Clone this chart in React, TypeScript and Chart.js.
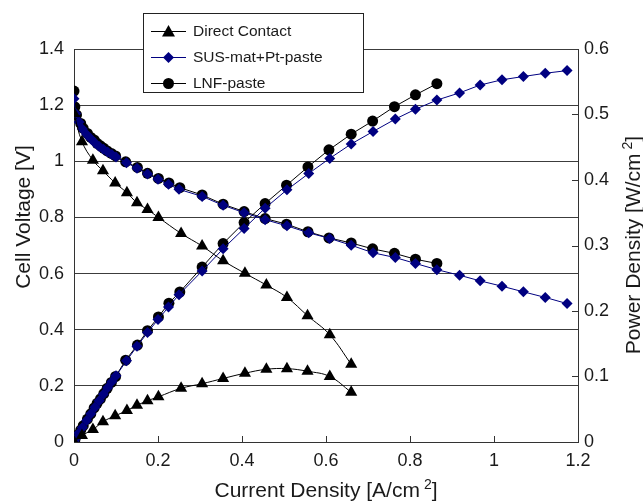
import { useEffect, useRef } from 'react';
import { Chart, registerables } from 'chart.js';
Chart.register(...registerables);

const FONT = '"Liberation Sans", Arial, Helvetica, sans-serif';
const AXIS_COLOR = '#333333';
const GRID_COLOR = '#3c3c3c';
const NAVY = '#000080';

// Direct Contact
const dcCurrent = [0, 0.019, 0.045, 0.069, 0.098, 0.126, 0.150, 0.175, 0.201, 0.255, 0.305, 0.355, 0.407, 0.458, 0.507, 0.556, 0.609, 0.660];
const dcVoltage = [1.17, 1.070, 1.004, 0.966, 0.923, 0.888, 0.852, 0.828, 0.800, 0.743, 0.698, 0.646, 0.601, 0.559, 0.515, 0.450, 0.382, 0.277];
const dcPower = [0, 0.010, 0.019, 0.031, 0.040, 0.048, 0.056, 0.063, 0.069, 0.082, 0.089, 0.097, 0.105, 0.111, 0.112, 0.108, 0.100, 0.076];

// SUS-mat+Pt-paste
const susCurrent = [0, 0.004, 0.012, 0.020, 0.030, 0.040, 0.050, 0.060, 0.070, 0.080, 0.090, 0.100, 0.125, 0.150, 0.175, 0.200, 0.225, 0.250, 0.305, 0.355, 0.405, 0.455, 0.507, 0.559, 0.609, 0.660, 0.712, 0.765, 0.813, 0.864, 0.918, 0.967, 1.019, 1.070, 1.122, 1.174];
const susVoltage = [1.223, 1.170, 1.140, 1.115, 1.095, 1.080, 1.065, 1.053, 1.043, 1.033, 1.024, 1.015, 0.995, 0.975, 0.955, 0.936, 0.918, 0.900, 0.875, 0.843, 0.817, 0.792, 0.770, 0.745, 0.725, 0.701, 0.674, 0.657, 0.636, 0.614, 0.594, 0.574, 0.555, 0.535, 0.515, 0.493];
const susPower = [0, 0.005, 0.014, 0.022, 0.033, 0.043, 0.053, 0.063, 0.073, 0.083, 0.092, 0.101, 0.124, 0.146, 0.167, 0.187, 0.206, 0.225, 0.261, 0.295, 0.326, 0.357, 0.385, 0.410, 0.433, 0.455, 0.474, 0.493, 0.508, 0.522, 0.533, 0.545, 0.553, 0.558, 0.563, 0.567];

// LNF-paste
const lnfCurrent = [0, 0.002, 0.006, 0.016, 0.022, 0.032, 0.040, 0.048, 0.055, 0.063, 0.071, 0.079, 0.089, 0.099, 0.123, 0.151, 0.175, 0.201, 0.226, 0.252, 0.305, 0.355, 0.405, 0.455, 0.506, 0.557, 0.607, 0.660, 0.711, 0.763, 0.813, 0.864];
const lnfVoltage = [1.250, 1.194, 1.165, 1.135, 1.117, 1.099, 1.085, 1.076, 1.064, 1.055, 1.046, 1.037, 1.028, 1.019, 0.998, 0.978, 0.957, 0.939, 0.923, 0.906, 0.880, 0.847, 0.821, 0.796, 0.776, 0.749, 0.727, 0.709, 0.688, 0.672, 0.651, 0.636];
const lnfPower = [0, 0.003, 0.010, 0.018, 0.025, 0.035, 0.043, 0.052, 0.059, 0.066, 0.074, 0.082, 0.091, 0.100, 0.125, 0.148, 0.170, 0.191, 0.212, 0.229, 0.267, 0.303, 0.335, 0.364, 0.392, 0.420, 0.446, 0.470, 0.490, 0.512, 0.530, 0.547];

const xTicks = [0, 0.2, 0.4, 0.6, 0.8, 1, 1.2];
const powerTicks = [0, 0.1, 0.2, 0.3, 0.4, 0.5, 0.6];

const legendItems = [
  { label: 'Direct Contact', color: '#000000', style: 'triangle' },
  { label: 'SUS-mat+Pt-paste', color: NAVY, style: 'rectRot' },
  { label: 'LNF-paste', color: '#000000', style: 'circle' },
];

const pts = (xs: number[], ys: number[]) => xs.map((x, i) => ({ x, y: ys[i] }));
const fmt = (v: number) => {
  const r = Math.round(v * 10) / 10;
  return r === 0 ? '0' : String(r);
};

function drawMarker(ctx: CanvasRenderingContext2D, style: string, x: number, y: number, color: string) {
  ctx.save();
  ctx.fillStyle = color;
  ctx.beginPath();
  if (style === 'triangle') {
    ctx.moveTo(x, y - 6.5);
    ctx.lineTo(x + 6.5, y + 5);
    ctx.lineTo(x - 6.5, y + 5);
    ctx.closePath();
  } else if (style === 'rectRot') {
    ctx.moveTo(x, y - 5.5);
    ctx.lineTo(x + 5.5, y);
    ctx.lineTo(x, y + 5.5);
    ctx.lineTo(x - 5.5, y);
    ctx.closePath();
  } else {
    ctx.arc(x, y, 5.5, 0, Math.PI * 2);
  }
  ctx.fill();
  ctx.restore();
}

function drawSupText(ctx: CanvasRenderingContext2D, base: string, sup: string, tail: string, cx: number, baseline: number) {
  ctx.font = `21px ${FONT}`;
  const wBase = ctx.measureText(base).width;
  const wTail = ctx.measureText(tail).width;
  ctx.font = `14px ${FONT}`;
  const wSup = ctx.measureText(sup).width;
  const gap = 4;
  const total = wBase + gap + wSup + wTail;
  let x = cx - total / 2;
  ctx.textAlign = 'left';
  ctx.textBaseline = 'alphabetic';
  ctx.font = `21px ${FONT}`;
  ctx.fillText(base, x, baseline);
  x += wBase + gap;
  ctx.font = `14px ${FONT}`;
  ctx.fillText(sup, x, baseline - 8);
  x += wSup;
  ctx.font = `21px ${FONT}`;
  ctx.fillText(tail, x, baseline);
}

const decor = {
  id: 'decor',
  afterDraw(chart: any) {
    const { ctx, chartArea, scales } = chart;
    const { left, right, top, bottom } = chartArea;
    ctx.save();
    // inward ticks
    ctx.strokeStyle = AXIS_COLOR;
    ctx.lineWidth = 1;
    ctx.beginPath();
    xTicks.slice(1, -1).forEach((v) => {
      const px = Math.round(scales.x.getPixelForValue(v)) + 0.5;
      ctx.moveTo(px, bottom);
      ctx.lineTo(px, bottom - 6);
    });
    powerTicks.slice(1, -1).forEach((v) => {
      const py = Math.round(scales.y1.getPixelForValue(v)) + 0.5;
      ctx.moveTo(right, py);
      ctx.lineTo(right - 6, py);
    });
    ctx.stroke();

    ctx.fillStyle = '#1a1a1a';
    // x title
    drawSupText(ctx, 'Current Density [A/cm', '2', ']', (left + right) / 2, 497);
    // left title
    ctx.save();
    ctx.translate(30, 217);
    ctx.rotate(-Math.PI / 2);
    ctx.font = `21px ${FONT}`;
    ctx.textAlign = 'center';
    ctx.textBaseline = 'alphabetic';
    ctx.fillText('Cell Voltage [V]', 0, 0);
    ctx.restore();
    // right title
    ctx.save();
    ctx.translate(640, 245);
    ctx.rotate(-Math.PI / 2);
    drawSupText(ctx, 'Power Density [W/cm', '2', ']', 0, 0);
    ctx.restore();

    // legend
    const lx = 143, ly = 13, lw = 220, lh = 79;
    ctx.fillStyle = '#ffffff';
    ctx.fillRect(lx, ly, lw, lh);
    ctx.strokeStyle = '#222222';
    ctx.lineWidth = 1;
    ctx.strokeRect(lx + 0.5, ly + 0.5, lw, lh);
    const rows = [31, 57, 83];
    legendItems.forEach((it, i) => {
      const y = rows[i];
      ctx.strokeStyle = it.color;
      ctx.beginPath();
      ctx.moveTo(151, y + 0.5);
      ctx.lineTo(186, y + 0.5);
      ctx.stroke();
      drawMarker(ctx, it.style, 168.5, y + 0.5, it.color);
      ctx.fillStyle = '#1a1a1a';
      ctx.font = `15.5px ${FONT}`;
      ctx.textAlign = 'left';
      ctx.textBaseline = 'middle';
      ctx.fillText(it.label, 193, y + 1);
    });
    ctx.restore();
  },
};

export default function App() {
  const ref = useRef<HTMLCanvasElement>(null);
  useEffect(() => {
    const canvas = ref.current;
    if (!canvas) return;
    const base = { borderWidth: 1, pointBorderWidth: 0, fill: false };
    const chart = new Chart(canvas, {
      type: 'line',
      data: {
        datasets: [
          { ...base, label: 'Direct Contact V', data: pts(dcCurrent, dcVoltage), yAxisID: 'y', borderColor: '#000', backgroundColor: '#000', pointBackgroundColor: '#000', pointStyle: 'triangle', pointRadius: 7, tension: 0.4 },
          { ...base, label: 'Direct Contact P', data: pts(dcCurrent, dcPower), yAxisID: 'y1', borderColor: '#000', backgroundColor: '#000', pointBackgroundColor: '#000', pointStyle: 'triangle', pointRadius: 7, tension: 0.4 },
          { ...base, label: 'SUS V', data: pts(susCurrent, susVoltage), yAxisID: 'y', borderColor: NAVY, backgroundColor: NAVY, pointBackgroundColor: NAVY, pointStyle: 'rectRot', pointRadius: 5.5, tension: 0 },
          { ...base, label: 'SUS P', data: pts(susCurrent, susPower), yAxisID: 'y1', borderColor: NAVY, backgroundColor: NAVY, pointBackgroundColor: NAVY, pointStyle: 'rectRot', pointRadius: 5.5, tension: 0 },
          { ...base, label: 'LNF V', data: pts(lnfCurrent, lnfVoltage), yAxisID: 'y', borderColor: '#000', backgroundColor: '#000', pointBackgroundColor: '#000', pointStyle: 'circle', pointRadius: 5.5, tension: 0 },
          { ...base, label: 'LNF P', data: pts(lnfCurrent, lnfPower), yAxisID: 'y1', borderColor: '#000', backgroundColor: '#000', pointBackgroundColor: '#000', pointStyle: 'circle', pointRadius: 5.5, tension: 0 },
        ],
      },
      options: {
        animation: false,
        responsive: false,
        layout: { padding: { top: 49, left: 0, right: 0, bottom: 0 } },
        plugins: { legend: { display: false }, tooltip: { enabled: false } },
        scales: {
          x: {
            type: 'linear',
            min: 0,
            max: 1.2,
            afterBuildTicks: (s: any) => { s.ticks = xTicks.map((v) => ({ value: v })); },
            ticks: { padding: 8, color: '#1a1a1a', font: { family: FONT, size: 18 }, callback: (v: any) => fmt(Number(v)), maxRotation: 0, autoSkip: false },
            grid: { display: false, drawTicks: false },
            border: { display: true, color: AXIS_COLOR, width: 1 },
            afterFit: (s: any) => { s.height = 61; },
          },
          y: {
            type: 'linear',
            position: 'left',
            min: 0,
            max: 1.4,
            ticks: { stepSize: 0.2, padding: 10, color: '#1a1a1a', font: { family: FONT, size: 18 }, callback: (v: any) => fmt(Number(v)) },
            grid: { display: true, color: GRID_COLOR, lineWidth: 1, drawTicks: false },
            border: { display: true, color: AXIS_COLOR, width: 1 },
            afterFit: (s: any) => { s.width = 74; },
          },
          y1: {
            type: 'linear',
            position: 'right',
            min: 0,
            max: 0.6,
            afterBuildTicks: (s: any) => { s.ticks = powerTicks.map((v) => ({ value: v })); },
            ticks: { padding: 6, color: '#1a1a1a', font: { family: FONT, size: 18 }, callback: (v: any) => fmt(Number(v)) },
            grid: { display: false, drawTicks: false },
            border: { display: true, color: AXIS_COLOR, width: 1 },
            afterFit: (s: any) => { s.width = 65; },
          },
        },
      },
      plugins: [decor],
    } as any);
    return () => chart.destroy();
  }, []);
  return (
    <div style={{ position: 'absolute', left: 0, top: 0, width: 643, height: 503, background: '#ffffff' }}>
      <canvas ref={ref} width={643} height={503} style={{ display: 'block', width: 643, height: 503 }} />
    </div>
  );
}
